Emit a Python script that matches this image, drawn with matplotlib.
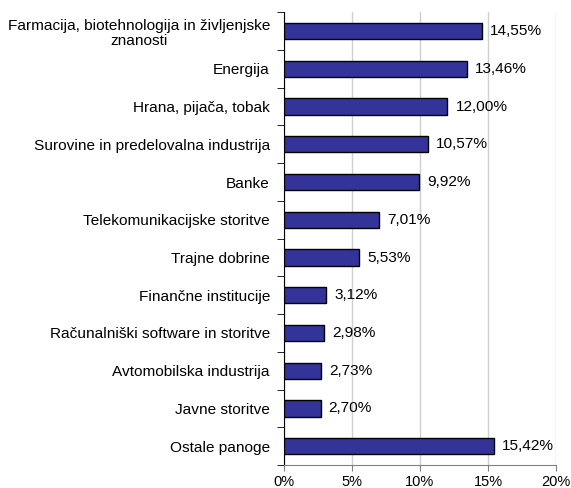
import matplotlib
matplotlib.use("Agg")
import matplotlib.pyplot as plt
import numpy as np

categories = ["Farmacija, biotehnologija in življenjske\nznanosti", "Energija", "Hrana, pijača, tobak",
              "Surovine in predelovalna industrija", "Banke", "Telekomunikacijske storitve",
              "Trajne dobrine", "Finančne institucije", "Računalniški software in storitve",
              "Avtomobilska industrija", "Javne storitve", "Ostale panoge"]
values = [14.55, 13.46, 12.00, 10.57, 9.92, 7.01, 5.53, 3.12, 2.98, 2.73, 2.70, 15.42]
labels = ["14,55%", "13,46%", "12,00%", "10,57%", "9,92%", "7,01%", "5,53%", "3,12%", "2,98%",
          "2,73%", "2,70%", "15,42%"]
xticks = [0, 5, 10, 15, 20]
xticklabels = ["0%", "5%", "10%", "15%", "20%"]

plt.rcParams['font.family'] = ['Liberation Sans', 'DejaVu Sans']
fig = plt.figure(figsize=(5.71, 4.88), dpi=100)
ax = fig.add_axes([0.497, 0.047, 0.477, 0.928])

n = len(categories)
y = np.arange(n)
ax.barh(y, values, height=0.43, color="#333399", edgecolor="black", linewidth=1, zorder=3)
for yi, v, l in zip(y, values, labels):
    ax.text(v + 0.6, yi, l, va="center", ha="left", fontsize=11.1)

ax.set_ylim(n - 0.5, -0.5)
ax.set_xlim(0, 20)
ax.set_yticks(y)
ax.set_yticklabels(categories, fontsize=11.05, multialignment="center", linespacing=1.15)
ax.tick_params(axis="y", length=0, pad=10)
ax.set_yticks(np.arange(n + 1) - 0.5, minor=True)
ax.tick_params(axis="y", which="minor", length=5, direction="out")
ax.set_xticks(xticks)
ax.set_xticklabels(xticklabels, fontsize=10.5)
ax.tick_params(axis="x", length=4, pad=3, direction="out", color="#808080")
ax.grid(axis="x", color="#d0d0d0", linewidth=1, zorder=0)
for s in ["top", "right"]:
    ax.spines[s].set_visible(False)
ax.spines["left"].set_color("black")
ax.spines["bottom"].set_color("#808080")
fig.savefig("out.png", dpi=100)
